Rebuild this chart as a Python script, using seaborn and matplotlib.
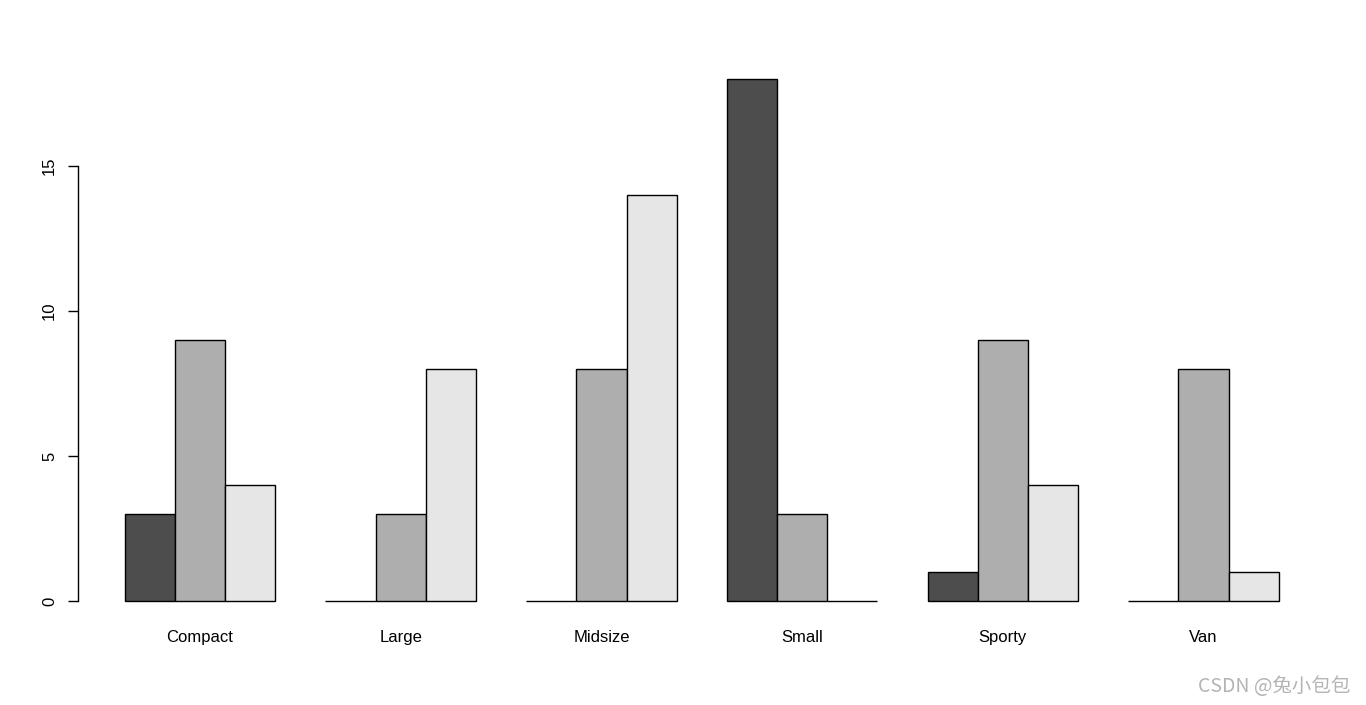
import matplotlib
matplotlib.use("Agg")
import matplotlib.pyplot as plt
import seaborn as sns
import pandas as pd

# data
types = ["Compact", "Large", "Midsize", "Small", "Sporty", "Van"]
groups = ["g1", "g2", "g3"]
g1 = [3, 0, 0, 18, 1, 0]
g2 = [9, 3, 8, 3, 9, 8]
g3 = [4, 8, 14, 0, 4, 1]
colors = ["#4D4D4D", "#AEAEAE", "#E6E6E6"]

df = pd.DataFrame({
    "type": types * 3,
    "group": [groups[0]] * 6 + [groups[1]] * 6 + [groups[2]] * 6,
    "count": g1 + g2 + g3,
})

sns.set_style("white")
plt.rcParams["font.family"] = ["Liberation Sans", "DejaVu Sans"]

fig = plt.figure(figsize=(13.66, 7.05), dpi=100)
W, H = 1366, 705
ax = fig.add_axes([78 / W, (H - 622) / H, (1325 - 78) / W, (622 - 58) / H])

sns.barplot(data=df, x="type", y="count", hue="group", order=types,
            hue_order=groups, palette=colors, width=0.75, saturation=1,
            edgecolor="black", linewidth=1, legend=False, ax=ax)

ax.set_xlim(-0.608, 5.605)
ax.set_ylim(-0.72, 18.72)

# R-style axes
for s in ["top", "right", "bottom"]:
    ax.spines[s].set_visible(False)
ax.spines["left"].set_bounds(0, 15)
ax.spines["left"].set_color("black")
ax.spines["left"].set_linewidth(1)
ax.set_yticks([0, 5, 10, 15])
ax.set_yticklabels(["0", "5", "10", "15"], rotation=90, va="center", fontsize=12)
ax.tick_params(axis="y", left=True, length=7, width=1, color="black",
               labelcolor="black", pad=8)
ax.tick_params(axis="x", bottom=False, labelsize=12, labelcolor="black", pad=2)
ax.set_xlabel("")
ax.set_ylabel("")

# watermark
fig.text(1350 / W, (H - 686) / H, "CSDN @兔小包包", ha="right", va="center",
         fontsize=14, color="#B4B4B4",
         family=["Noto Sans CJK SC", "DejaVu Sans"])

fig.savefig("out.png", dpi=100)
